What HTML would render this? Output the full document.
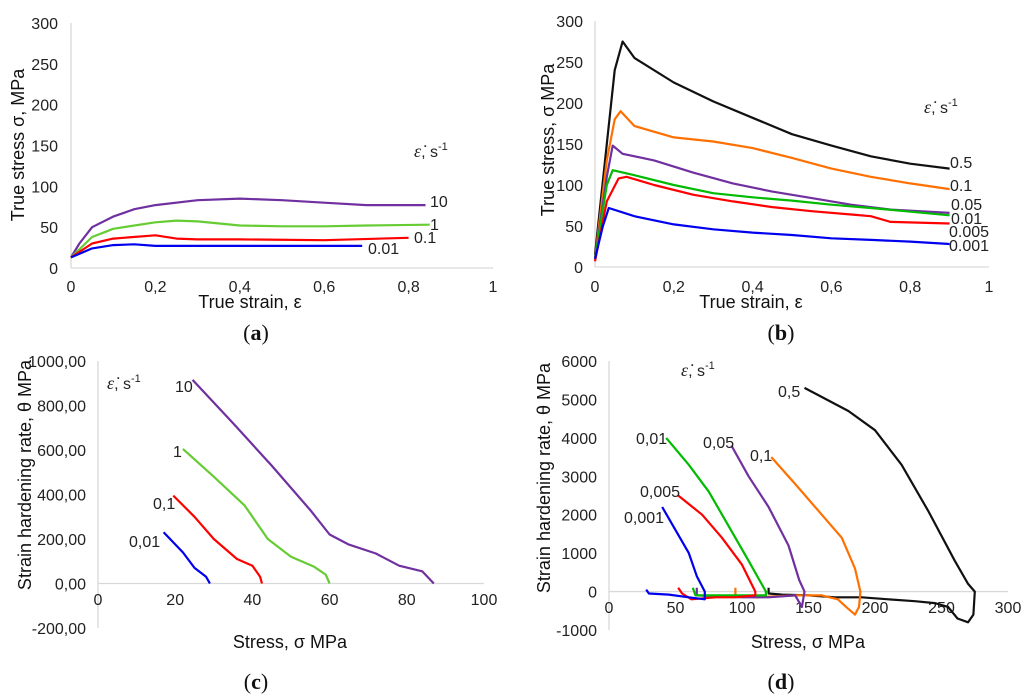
<!DOCTYPE html>
<html><head><meta charset="utf-8"><style>
body{margin:0;background:#fff;}
svg{display:block;font-family:"Liberation Sans",sans-serif;}
.t{font-size:16px;fill:#222}
.ti{font-size:18px;fill:#111}
.cap{font-family:"Liberation Serif",serif;font-size:22px;fill:#111}
</style></head><body>
<svg id="s" width="1024" height="699" viewBox="0 0 1024 699"></svg>
<script>
// Panel a data
const aCats=["10","1","0.1","0.01"];
const aX10=[0,0.02,0.05,0.1,0.15,0.2,0.3,0.4,0.5,0.6,0.7,0.84];
const aY10=[13,30,50,63,72,77,83,85,83,80,77,77];
const aX1=[0,0.05,0.1,0.2,0.25,0.3,0.4,0.5,0.6,0.7,0.85];
const aY1=[13,38,48,56,58,57,52,51,51,52,53];
const aX01=[0,0.05,0.1,0.2,0.25,0.3,0.4,0.6,0.8];
const aY01=[13,30,36,40,36,35,35,34,37];
const aX001=[0,0.05,0.1,0.15,0.2,0.4,0.69];
const aY001=[13,24,28,29,27,27,27];
// Panel b data
const bX05=[0,0.03,0.05,0.07,0.1,0.2,0.3,0.4,0.5,0.6,0.7,0.8,0.9];
const bY05=[15,150,240,275,255,225,202,182,162,148,135,126,120];
const bX01=[0,0.03,0.05,0.065,0.1,0.2,0.3,0.4,0.5,0.6,0.7,0.8,0.9];
const bY01=[10,130,180,190,172,158,153,145,133,120,110,102,95];
const bX005=[0,0.03,0.045,0.07,0.15,0.25,0.35,0.45,0.55,0.65,0.75,0.9];
const bY005=[10,110,148,138,130,115,102,92,84,76,70,66];
const bX001=[0,0.03,0.045,0.1,0.2,0.3,0.4,0.5,0.6,0.7,0.9];
const bY001=[10,100,118,112,100,90,85,81,76,72,63];
const bX0005=[0,0.03,0.06,0.08,0.15,0.25,0.35,0.45,0.55,0.65,0.7,0.75,0.9];
const bY0005=[7,80,108,110,100,88,80,73,68,64,62,55,53];
const bX0001=[0,0.02,0.035,0.1,0.2,0.3,0.4,0.5,0.6,0.7,0.8,0.9];
const bY0001=[10,50,72,62,52,46,42,39,35,33,31,28];
// Panel c data
const cX10=[24.5,35,45,55,60,65,72,78,84,87];
const cY10=[915,720,530,330,220,175,135,80,55,0];
const cX1=[22,30,38,44,50,56,59,60];
const cY1=[605,480,350,200,120,75,40,0];
const cX01=[19.5,25,30,36,40,42,42.5];
const cY01=[395,300,200,110,80,30,0];
const cX001=[17,22,25,28,29];
const cY001=[230,140,70,30,0];
// Panel d data
const dX05=[147,180,200,220,240,260,270,275,274,270,262,255,245,230,210,190,170,150,130,120,120];
const dY05=[5300,4700,4200,3300,2100,800,200,0,-600,-800,-700,-400,-300,-250,-200,-150,-150,-100,-80,-50,100];
const dX01=[122,140,160,175,185,189,188,185,180,172,160,140,110,95,95];
const dY01=[3500,2800,2000,1400,600,0,-400,-600,-450,-200,-100,-100,-150,-100,100];
const dX005=[92,105,120,135,143,147,145,140,120,100,66,66];
const dY005=[3800,3000,2200,1200,300,0,-400,-100,-150,-150,-100,100];
const dX001=[43,60,75,90,105,118,118,100,80,65,63];
const dY001=[4000,3300,2600,1700,800,0,-100,-100,-100,-100,100];
const dX0005=[52,70,85,100,110,110,95,80,62,55,52];
const dY0005=[2500,2000,1400,700,0,-100,-150,-150,-200,-50,100];
const dX0001=[40,50,60,66,72,72,60,45,30,28];
const dY0001=[2200,1600,1000,400,0,-200,-150,-80,-50,50];

const S=document.getElementById('s');
const NS='http://www.w3.org/2000/svg';
function mk(tag,attrs,name,txt){const e=document.createElementNS(NS,tag);for(const k in attrs)e.setAttribute(k,attrs[k]);


if(txt!==undefined)e.textContent=txt;S.appendChild(e);return e;}
function panel(p){
 const sx=v=>p.x0+(v-p.xmin)/(p.xmax-p.xmin)*(p.x1-p.x0);
 const sy=v=>p.y0+(v-p.ymin)/(p.ymax-p.ymin)*(p.y1-p.y0);
 mk('line',{x1:p.x0,x2:p.x0,y1:sy(p.ymin),y2:sy(p.ymax),stroke:'#d9d9d9','stroke-width':1.3},p.id+'-y-axis');
 mk('line',{x1:p.x0,x2:p.x1,y1:sy(0),y2:sy(0),stroke:'#d9d9d9','stroke-width':1.3},p.id+'-x-axis');
 p.yt.forEach(v=>mk('text',{x:p.x0-p.ylo,y:sy(v)+6,'text-anchor':'end',class:'t'},p.id+'-y-tick',p.yf(v)));
 p.xt.forEach(v=>mk('text',{x:sx(v),y:p.xly,'text-anchor':'middle',class:'t'},p.id+'-x-tick',p.xf(v)));
 p.series.forEach(s=>{
  const d=s.x.map((v,i)=>(i?'L':'M')+sx(v).toFixed(1)+','+sy(s.y[i]).toFixed(1)).join('');
  mk('path',{d:d,fill:'none',stroke:s.c,'stroke-width':2.2,'stroke-linejoin':'round'},p.id+'-line-'+s.n);
  mk('text',{x:s.lx,y:s.ly,'text-anchor':s.la||'start',class:'t'},p.id+'-label-'+s.n,s.n);
 });
 mk('text',{x:p.ytx,y:p.yty,'text-anchor':'middle',class:'ti',transform:`rotate(-90 ${p.ytx} ${p.yty})`},p.id+'-y-axis-title',p.ytitle);
 mk('text',{x:p.xtx,y:p.xty,'text-anchor':'middle',class:'ti'},p.id+'-x-axis-title',p.xtitle);
 const lg=mk('text',{x:p.lgx,y:p.lgy,class:'t'},p.id+'-legend-title');
 lg.innerHTML='<tspan font-family="Liberation Serif" font-style="italic" font-size="18">ε̇</tspan>, s<tspan dy="-7" font-size="11">-1</tspan>';
 const c=mk('text',{x:p.capx,y:p.capy,'text-anchor':'middle',class:'cap'},p.id+'-caption');
 c.innerHTML='(<tspan font-weight="bold">'+p.cap+'</tspan>)';
}
const f0=v=>String(v), fc=v=>String(v).replace('.',','), f2=v=>v.toFixed(2).replace('.',',');
panel({id:'a',x0:71,x1:493,xmin:0,xmax:1,y0:268,y1:23,ymin:0,ymax:300,ylo:13,xly:292,
 yt:[0,50,100,150,200,250,300],xt:[0,0.2,0.4,0.6,0.8,1],yf:f0,xf:fc,
 ytitle:'True stress σ, MPa',ytx:24,yty:145,xtitle:'True strain, ε',xtx:250,xty:308,lgx:414,lgy:157,capx:256,capy:340,cap:'a',
 series:[{n:'10',x:aX10,y:aY10,c:'#7030a0',lx:430,ly:207},{n:'1',x:aX1,y:aY1,c:'#66cc33',lx:430,ly:230},
 {n:'0.1',x:aX01,y:aY01,c:'#ff0000',lx:414,ly:243},{n:'0.01',x:aX001,y:aY001,c:'#0000ee',lx:368,ly:254}]});
panel({id:'b',x0:595,x1:989,xmin:0,xmax:1,y0:267,y1:21,ymin:0,ymax:300,ylo:12,xly:292,
 yt:[0,50,100,150,200,250,300],xt:[0,0.2,0.4,0.6,0.8,1],yf:f0,xf:fc,
 ytitle:'True stress, σ MPa',ytx:554,yty:140,xtitle:'True strain, ε',xtx:751,xty:308,lgx:924,lgy:113,capx:781,capy:340,cap:'b',
 series:[{n:'0.5',x:bX05,y:bY05,c:'#111111',lx:950,ly:168},{n:'0.1',x:bX01,y:bY01,c:'#ff7000',lx:950,ly:191},
 {n:'0.05',x:bX005,y:bY005,c:'#7030a0',lx:951,ly:210},{n:'0.01',x:bX001,y:bY001,c:'#00bb00',lx:951,ly:224},
 {n:'0.005',x:bX0005,y:bY0005,c:'#ff0000',lx:949,ly:237},{n:'0.001',x:bX0001,y:bY0001,c:'#0000ee',lx:949,ly:251},]});
panel({id:'c',x0:98,x1:484,xmin:0,xmax:100,y0:628,y1:361,ymin:-200,ymax:1000,ylo:12,xly:605,
 yt:[-200,0,200,400,600,800,1000],xt:[0,20,40,60,80,100],yf:f2,xf:f0,
 ytitle:'Strain hardening rate, θ MPa',ytx:31,yty:475,xtitle:'Stress, σ MPa',xtx:290,xty:648,lgx:107,lgy:389,capx:256,capy:689,cap:'c',
 series:[{n:'10',x:cX10,y:cY10,c:'#7030a0',lx:175,ly:392,la:'start'},{n:'1',x:cX1,y:cY1,c:'#66cc33',lx:173,ly:457},
 {n:'0,1',x:cX01,y:cY01,c:'#ff0000',lx:153,ly:509},{n:'0,01',x:cX001,y:cY001,c:'#0000ee',lx:129,ly:547}]});
panel({id:'d',x0:609,x1:1008,xmin:0,xmax:300,y0:630,y1:361,ymin:-1000,ymax:6000,ylo:12,xly:613,
 yt:[-1000,0,1000,2000,3000,4000,5000,6000],xt:[0,50,100,150,200,250,300],yf:f0,xf:f0,
 ytitle:'Strain hardening rate, θ MPa',ytx:550,yty:478,xtitle:'Stress, σ MPa',xtx:808,xty:648,lgx:681,lgy:376,capx:781,capy:689,cap:'d',
 series:[{n:'0,5',x:dX05,y:dY05,c:'#111111',lx:778,ly:397},{n:'0,1',x:dX01,y:dY01,c:'#ff7000',lx:750,ly:461},
 {n:'0,05',x:dX005,y:dY005,c:'#7030a0',lx:703,ly:448},{n:'0,01',x:dX001,y:dY001,c:'#00bb00',lx:636,ly:444},
 {n:'0,005',x:dX0005,y:dY0005,c:'#ff0000',lx:640,ly:497},{n:'0,001',x:dX0001,y:dY0001,c:'#0000ee',lx:624,ly:523}]});
</script>
</body></html>
